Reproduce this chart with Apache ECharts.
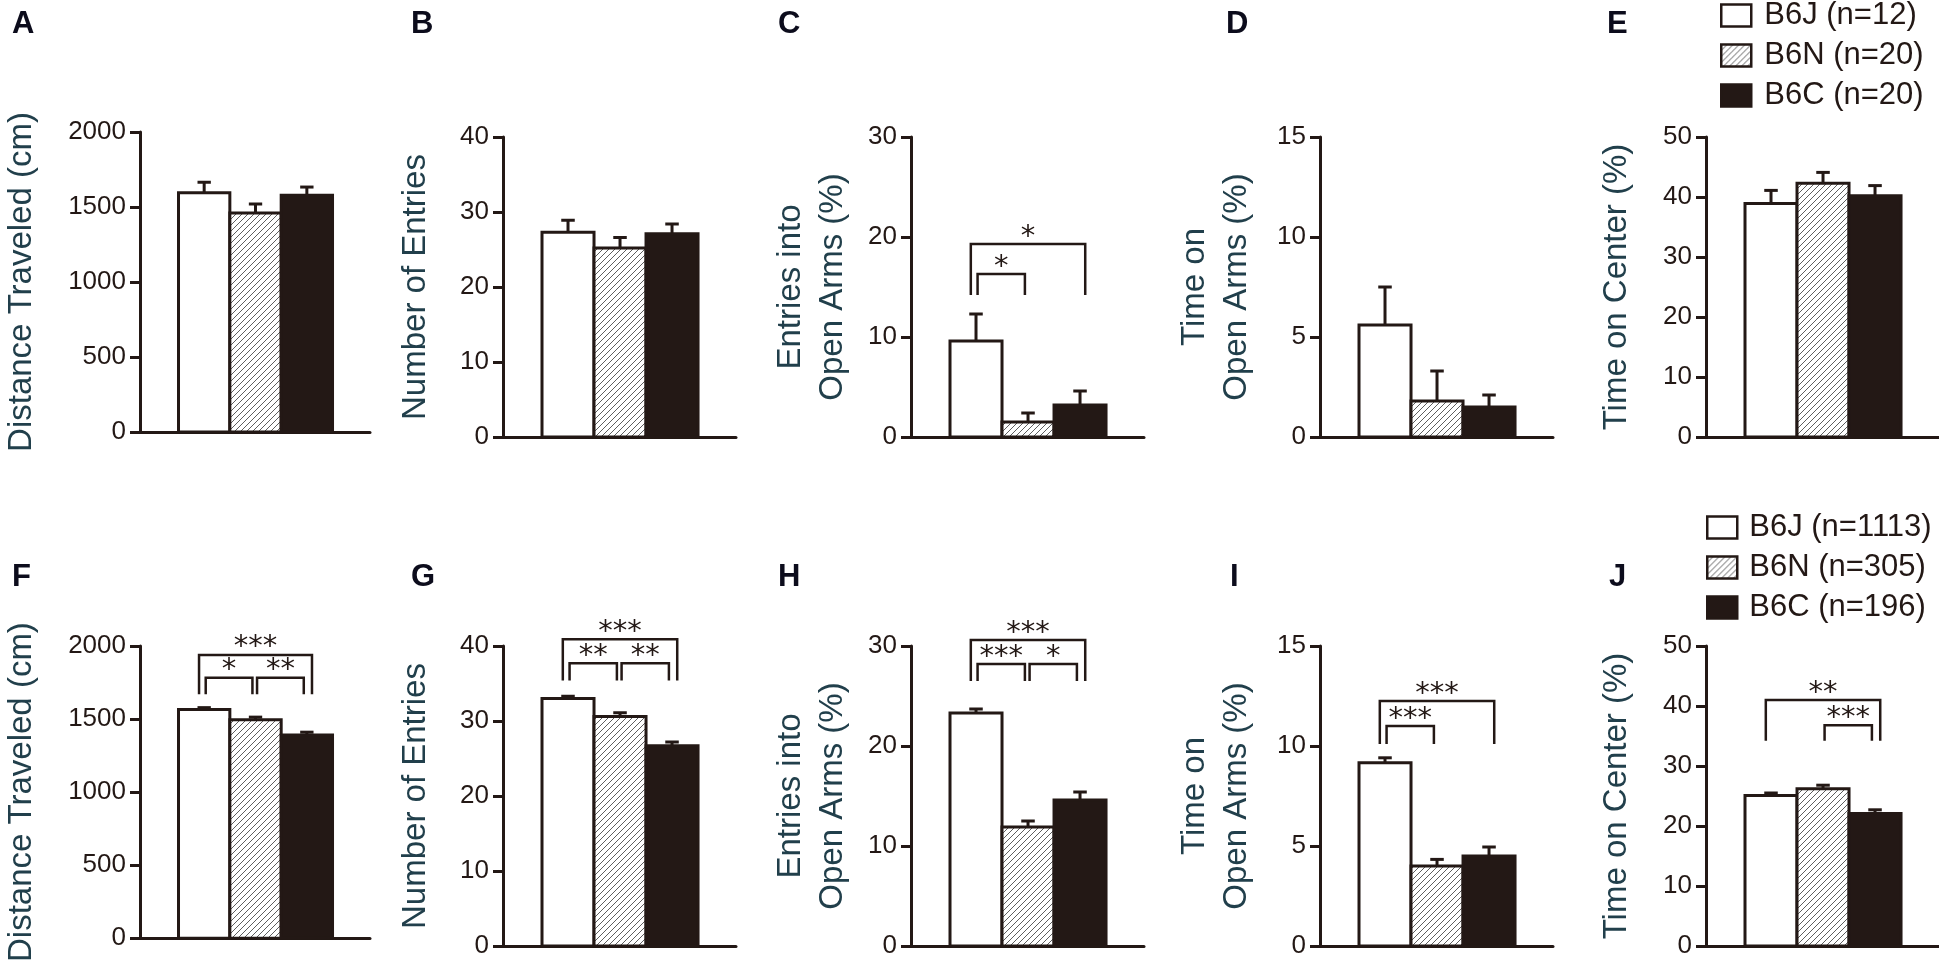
<!DOCTYPE html>
<html>
<head>
<meta charset="utf-8">
<title>B6J / B6N / B6C elevated plus maze</title>
<script src="https://cdn.jsdelivr.net/npm/echarts/dist/echarts.min.js"></script>
<style>
	html, body { margin: 0; padding: 0; background: #fff; }
	#chart { width: 1939px; height: 964px; }
</style>
</head>
<body>
<div id="chart"></div>
<script>
// groups and sample sizes
const groups = ['B6J', 'B6N', 'B6C'];
const nTop = [12, 20, 20];
const nBottom = [1113, 305, 196];

const letters = ['A', 'B', 'C', 'D', 'E', 'F', 'G', 'H', 'I', 'J'];
const yNames = ['Distance Traveled (cm)', 'Number of Entries', 'Entries into\nOpen Arms (%)', 'Time on\nOpen Arms (%)', 'Time on Center (%)'];
const yMax = [2000, 40, 30, 15, 50];
const yStep = [500, 10, 10, 5, 10];

// means and SEM, order B6J, B6N, B6C
const meanA = [1595, 1460, 1578];   const semA = [70, 60, 55];
const meanB = [27.3, 25.2, 27.1];   const semB = [1.6, 1.4, 1.3];
const meanC = [9.6, 1.5, 3.2];      const semC = [2.7, 0.9, 1.4];
const meanD = [5.6, 1.8, 1.5];      const semD = [1.9, 1.5, 0.6];
const meanE = [38.9, 42.3, 40.2];   const semE = [2.2, 1.8, 1.7];
const meanF = [1565, 1495, 1390];   const semF = [13, 18, 20];
const meanG = [33.0, 30.6, 26.7];   const semG = [0.3, 0.5, 0.5];
const meanH = [23.3, 11.9, 14.6];   const semH = [0.4, 0.6, 0.8];
const meanI = [9.16, 4.0, 4.5];     const semI = [0.25, 0.33, 0.45];
const meanJ = [25.1, 26.2, 22.1];   const semJ = [0.4, 0.6, 0.6];

// significance: [from group, to group, stars, bracket level]
const sigC = [[0, 2, '*', 19.3], [0, 1, '*', 16.3]];      const legC = 14.2;
const sigF = [[0, 2, '***', 1939], [0, 1, '*', 1782], [1, 2, '**', 1782]];  const legF = 1670;
const sigG = [[0, 2, '***', 40.9], [0, 1, '**', 37.7], [1, 2, '**', 37.7]]; const legG = 35.4;
const sigH = [[0, 2, '***', 30.6], [0, 1, '***', 28.2], [1, 2, '*', 28.2]]; const legH = 26.5;
const sigI = [[0, 2, '***', 12.25], [0, 1, '***', 11.0]]; const legI = 10.1;
const sigJ = [[0, 2, '**', 41.0], [1, 2, '***', 36.8]];   const legJ = 34.2;

const means = [meanA, meanB, meanC, meanD, meanE, meanF, meanG, meanH, meanI, meanJ];
const sems = [semA, semB, semC, semD, semE, semF, semG, semH, semI, semJ];
const sigs = { 2: [sigC, legC], 5: [sigF, legF], 6: [sigG, legG], 7: [sigH, legH], 8: [sigI, legI], 9: [sigJ, legJ] };

// layout
const INK = '#231815';
const FONT = '"Liberation Sans", Arial, sans-serif';
const axisLeft = [137, 503, 911, 1320, 1706];
const rowTop = [137, 646];
const plotW = 233, plotH = 300;
const nameGaps = [97, 66, 57, 62, 68];
const letterPos = [[12, 9], [411, 9], [778, 9], [1226, 9], [1607, 9],
	[12, 562], [411, 562], [778, 562], [1230, 562], [1609, 562]];

const hatch = (function() {
	let c = document.createElement('canvas');
	c.width = 6;
	c.height = 6;
	let g = c.getContext('2d');
	g.fillStyle = '#fff';
	g.fillRect(0, 0, 6, 6);
	g.strokeStyle = '#5e5e5e';
	g.lineWidth = 1;
	g.beginPath();
	g.moveTo(0, 6); g.lineTo(6, 0);
	g.moveTo(-1, 1); g.lineTo(1, -1);
	g.moveTo(5, 7); g.lineTo(7, 5);
	g.stroke();
	return c;
})();
const fills = ['#ffffff', { image: hatch, repeat: 'repeat' }, INK];

function barItem(k) {
	return function(params, api) {
		let i = api.value(0), m = api.value(1), e = api.value(2);
		let p0 = api.coord([i, m]);
		let p1 = api.coord([i + 1, 0]);
		let pe = api.coord([i + 0.5, m + e]);
		let cap = api.size([0.13, 0])[0];
		return {
			type: 'group',
			children: [{
				type: 'line',
				shape: { x1: pe[0], y1: p0[1], x2: pe[0], y2: pe[1] },
				style: { stroke: INK, lineWidth: 3 }
			}, {
				type: 'line',
				shape: { x1: pe[0] - cap, y1: pe[1], x2: pe[0] + cap, y2: pe[1] },
				style: { stroke: INK, lineWidth: 3 }
			}, {
				type: 'rect',
				shape: { x: p0[0], y: p0[1], width: p1[0] - p0[0], height: p1[1] - p0[1] },
				style: { fill: fills[k], stroke: INK, lineWidth: 3 }
			}]
		};
	};
}

function bracketItem(rows, legs) {
	return function(params, api) {
		let r = rows[params.dataIndex];
		let wide = r[1] - r[0] > 1;
		let xa = r[0] + 0.5 - (wide ? 0.1 : -0.03);
		let xb = r[1] + 0.5 + (wide ? 0.1 : -0.06);
		let a = api.coord([xa, r[3]]);
		let b = api.coord([xb, r[3]]);
		let low = api.coord([xa, legs])[1];
		return {
			type: 'group',
			children: [{
				type: 'polyline',
				shape: { points: [[a[0], low], [a[0], a[1]], [b[0], b[1]], [b[0], low]] },
				style: { stroke: INK, lineWidth: 2.5, fill: null }
			}, {
				type: 'text',
				x: (a[0] + b[0]) / 2,
				y: a[1] - 7,
				style: { text: r[2], font: '29px "DejaVu Sans"', fill: INK, align: 'center', verticalAlign: 'middle' }
			}]
		};
	};
}

let myChart = echarts.init(document.getElementById('chart'));

let grid = [], xAxis = [], yAxis = [], series = [];
for (let p = 0; p < 10; p++) {
	let col = p % 5, row = Math.floor(p / 5);
	let ns = row === 0 ? nTop : nBottom;
	grid.push({
		left: axisLeft[col],
		top: rowTop[row] - (p === 0 ? 5 : 0),
		width: plotW,
		height: plotH
	});
	xAxis.push({
		gridIndex: p,
		type: 'value',
		min: -0.75,
		max: 3.73,
		axisLine: { onZero: false, lineStyle: { color: INK, width: 3 } },
		axisTick: { show: false },
		axisLabel: { show: false },
		splitLine: { show: false }
	});
	yAxis.push({
		gridIndex: p,
		type: 'value',
		min: 0,
		max: yMax[col],
		interval: yStep[col],
		name: yNames[col],
		nameLocation: 'middle',
		nameRotate: 90,
		nameGap: nameGaps[col],
		nameTextStyle: { color: '#213f4b', fontSize: 33, fontFamily: FONT, lineHeight: 42 },
		axisLine: { show: true, onZero: false, lineStyle: { color: INK, width: 3 } },
		axisTick: { show: true, length: 10, lineStyle: { color: INK, width: 3 } },
		axisLabel: {
			margin: 14,
			fontSize: 26,
			color: INK,
			fontFamily: FONT,
			formatter: function(v) {
				return String(v);
			}
		},
		splitLine: { show: false }
	});
	for (let k = 0; k < 3; k++) {
		series.push({
			name: groups[k] + ' (n=' + ns[k] + ')',
			type: 'custom',
			xAxisIndex: p,
			yAxisIndex: p,
			renderItem: barItem(k),
			encode: { x: 0, y: 1 },
			data: [[k, means[p][k], sems[p][k]]]
		});
	}
	if (sigs[p]) {
		series.push({
			name: 'sig' + p,
			type: 'custom',
			xAxisIndex: p,
			yAxisIndex: p,
			clip: false,
			renderItem: bracketItem(sigs[p][0], sigs[p][1]),
			encode: { x: 0, y: 2 },
			data: sigs[p][0].map(r => [r[0], r[1], r[3]])
		});
	}
}

const legendStyles = [
	{ color: '#ffffff', borderColor: INK, borderWidth: 2.5 },
	{ color: { image: hatch, repeat: 'repeat' }, borderColor: INK, borderWidth: 2.5 },
	{ color: INK, borderColor: INK, borderWidth: 2.5 }
];

function legendOf(ns, left, top, pad) {
	return {
		data: groups.map((g, k) => ({ name: g + ' (n=' + ns[k] + ')', itemStyle: legendStyles[k] })),
		orient: 'vertical',
		left: left,
		top: top,
		padding: 0,
		icon: 'rect',
		itemWidth: 30,
		itemHeight: 22,
		itemGap: 9,
		selectedMode: false,
		textStyle: { fontSize: 31, color: INK, fontFamily: FONT, padding: [0, 0, 0, pad] }
	};
}

option = {
	animation: false,
	backgroundColor: '#fff',
	title: letters.map((t, i) => ({
		text: t,
		left: letterPos[i][0],
		top: letterPos[i][1],
		padding: 0,
		textStyle: { fontSize: 31, fontWeight: 'bold', color: '#0c0c1c', fontFamily: FONT }
	})),
	legend: [legendOf(nTop, 1720, 0, 8), legendOf(nBottom, 1706, 512, 7)],
	grid: grid,
	xAxis: xAxis,
	yAxis: yAxis,
	series: series
};

myChart.setOption(option);
window.addEventListener('resize', function() {
	myChart.resize();
})
</script>
</body>
</html>
